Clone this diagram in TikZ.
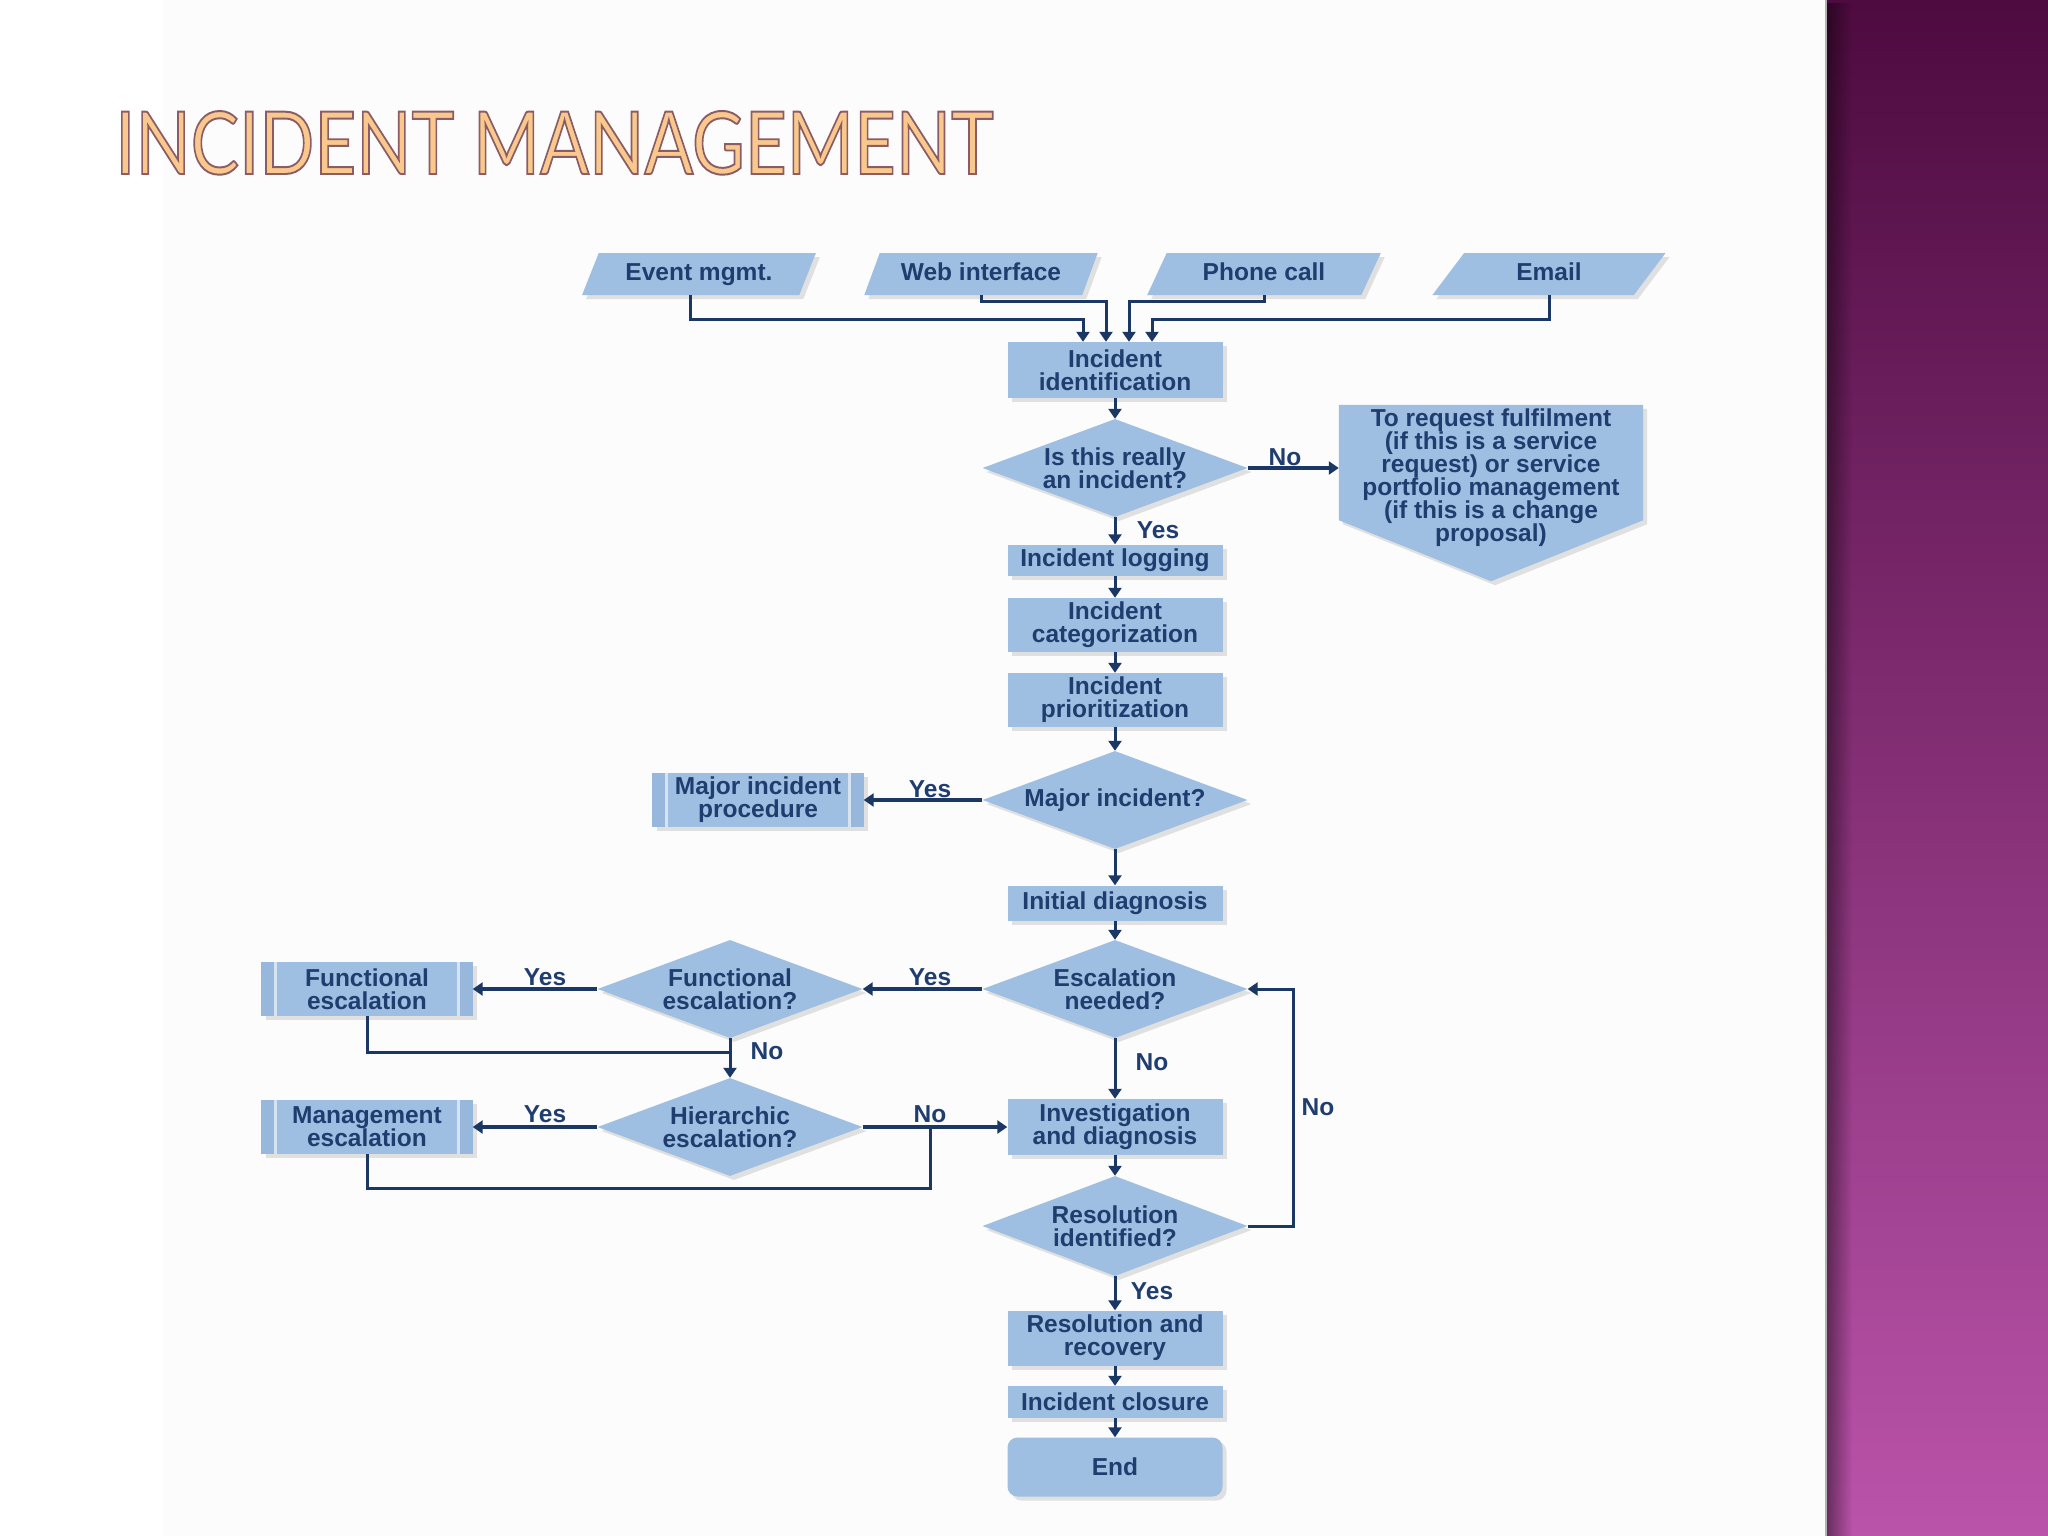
\documentclass[tikz,border=0pt]{standalone}
\usepackage{fontspec}
\setmainfont{Liberation Sans}
\newfontfamily\titlefont{Lato}
\usetikzlibrary{shapes.geometric,arrows.meta,shadows,fadings,calc}
\definecolor{boxblue}{HTML}{9EBFE2}
\definecolor{boxdark}{HTML}{97B8DC}
\definecolor{stripline}{HTML}{D6E4F2}
\definecolor{navy}{HTML}{1F3D6E}
\definecolor{linenavy}{HTML}{1B3763}
\definecolor{purpletop}{HTML}{4E0B40}
\definecolor{purplemid}{HTML}{87367C}
\definecolor{purplebot}{HTML}{BA53AA}
\definecolor{titlefill}{HTML}{F8C88C}
\definecolor{slidebg}{HTML}{FCFCFC}
\begin{document}
\begin{tikzpicture}[x=1pt,y=-1pt,
  every node/.style={font=\bfseries\fontsize{24.5}{23}\selectfont, text=navy},
  shadowed/.style={drop shadow={shadow xshift=4pt,shadow yshift=-4pt,opacity=0.2,fill=black!55}},
  procbox/.style={shadowed, fill=boxblue, draw=none, minimum width=215pt, align=center, inner sep=1pt},
  predbox/.style={procbox, minimum width=211pt, minimum height=54pt},
  decision/.style={diamond, shadowed, fill=boxblue, aspect=2.7, minimum width=265pt, minimum height=98pt, inner sep=0pt, align=center},
  inp/.style={trapezium, trapezium left angle=62, trapezium right angle=118, trapezium stretches=true, minimum width=234pt, minimum height=42pt, fill=boxblue, inner sep=0pt, text height=18pt, text depth=5pt, shadowed},
  lbl/.style={inner sep=0pt},
  conn/.style={draw=linenavy, line width=3pt},
  flow/.style={conn, -{Triangle[width=13pt,length=10pt]}},
  thickflow/.style={flow, line width=4.5pt}]
\useasboundingbox (0,0) rectangle (2048,1536);
% background
\fill[white] (0,0) rectangle (2048,1536);
\fill[slidebg] (163,0) rectangle (1826,1536);
\shade[top color=purpletop, middle color=purplemid, bottom color=purplebot] (1826,0) rectangle (2048,1536);
\fill[black, path fading=east, opacity=0.45] (1826,0) rectangle (1852,1536);
\draw[gray!60, line width=1.5pt] (1826,0) -- (1826,1536);
% title
\node[anchor=base west, inner sep=0pt, text=titlefill] (title) at (115,174)
  {\resizebox{878pt}{63pt}{\mdseries\titlefont\special{pdf:literal direct 2 Tr 0.55 0.36 0.40 RG 0.55 w}INCIDENT MANAGEMENT\special{pdf:literal direct 0 Tr}}};
% inputs
\node[inp] (ev) at (699,274) {Event mgmt.};
\node[inp] (web) at (981,274) {Web interface};
\node[inp] (ph) at (1264,274) {Phone call};
\node[inp] (em) at (1549,274) {Email};
% main column
\node[procbox, minimum height=56pt] (idf) at (1115,370) {Incident\\identification};
\node[decision] (q1) at (1115,468) {Is this really\\an incident?};
\node[minimum width=304pt, minimum height=146pt, inner sep=0pt, align=center] (req) at (1491,478)
  {};
\node[procbox, minimum height=31pt, inner sep=0pt] (log) at (1115,560) {Incident logging};
\node[procbox, minimum height=54pt] (cat) at (1115,625) {Incident\\categorization};
\node[procbox, minimum height=54pt] (pri) at (1115,700) {Incident\\prioritization};
\node[decision] (maj) at (1115,800) {Major incident?};
\node[predbox] (mip) at (758,800) {Major incident\\procedure};
\node[procbox, minimum height=35pt] (init) at (1115,903) {Initial diagnosis};
\node[decision] (esc) at (1115,989) {Escalation\\needed?};
\node[decision] (fun) at (730,989) {Functional\\escalation?};
\node[predbox] (funbox) at (367,989) {Functional\\escalation};
\node[decision] (hier) at (730,1127) {Hierarchic\\escalation?};
\node[predbox] (mgmt) at (367,1127) {Management\\escalation};
\node[procbox, minimum height=56pt] (inv) at (1115,1127) {Investigation\\and diagnosis};
\node[decision, minimum height=100pt] (res) at (1115,1226) {Resolution\\identified?};
\node[procbox, minimum height=55pt] (rr) at (1115,1338) {Resolution and\\recovery};
\node[procbox, minimum height=32pt, inner sep=0pt] (clo) at (1115,1402) {Incident closure};
\node[procbox, minimum height=59pt, rounded corners=10pt] (end) at (1115,1467) {End};
% pentagon (off-page connector)
\fill[boxblue, drop shadow={shadow xshift=4pt,shadow yshift=-4pt,opacity=0.2,fill=black!55}]
  (req.north west) -- (req.north east) -- ($(req.south east)+(0,-31)$) -- ($(req.south)+(0,30)$) -- ($(req.south west)+(0,-31)$) -- cycle;
\node[inner sep=0pt, align=center] (reqtext) at (req.center)
  {To request fulfilment\\(if this is a service\\request) or service\\portfolio management\\(if this is a change\\proposal)};
% predefined-process strips
\foreach \n in {mip,funbox,mgmt}{
  \fill[boxdark] (\n.north west) rectangle ([xshift=13pt]\n.south west);
  \fill[boxdark] (\n.north east) rectangle ([xshift=-13pt]\n.south east);
  \draw[stripline, line width=2.5pt] ([xshift=14pt]\n.north west) -- ([xshift=14pt]\n.south west);
  \draw[stripline, line width=2.5pt] ([xshift=-14pt]\n.north east) -- ([xshift=-14pt]\n.south east);
}
% coordinates for joins
\coordinate (j1) at (730,1052);
\coordinate (j2) at (930,1188);
\coordinate (j3) at (930,1127);
% input connectors
\draw[flow] ([xshift=-9pt]ev.south) -- ++(0,24) -| ([xshift=-32pt]idf.north);
\draw[flow] (web.south) -- ++(0,6) -| ([xshift=-9pt]idf.north);
\draw[flow] (ph.south) -- ++(0,6) -| ([xshift=14pt]idf.north);
\draw[flow] (em.south) -- ++(0,24) -| ([xshift=37pt]idf.north);
% main flow
\draw[flow] (idf) -- (q1);
\draw[thickflow] (q1.east) -- (q1.east -| req.west);
\draw[flow] (q1) -- (log);
\draw[flow] (log) -- (cat);
\draw[flow] (cat) -- (pri);
\draw[flow] (pri) -- (maj);
\draw[thickflow] (maj) -- (mip);
\draw[flow] (maj) -- (init);
\draw[flow] (init) -- (esc);
\draw[thickflow] (esc) -- (fun);
\draw[thickflow] (fun) -- (funbox);
\draw[flow] (fun) -- (hier);
\draw[conn] (funbox.south) |- (j1);
\draw[thickflow] (hier) -- (mgmt);
\draw[thickflow] (hier) -- (inv);
\draw[conn] (mgmt.south) |- (j2) -- (j3);
\draw[flow] (esc) -- (inv);
\draw[flow] (inv) -- (res);
\draw[flow] (res.east) -- ++(46,0) |- (esc.east);
\draw[flow] (res) -- (rr);
\draw[flow] (rr) -- (clo);
\draw[flow] (clo) -- (end);
% labels
\node[lbl] (l1) at (1285,457) {No};
\node[lbl] (l2) at (1158,530) {Yes};
\node[lbl] (l3) at (930,789) {Yes};
\node[lbl] (l4) at (930,977) {Yes};
\node[lbl] (l5) at (545,977) {Yes};
\node[lbl] (l6) at (767,1051) {No};
\node[lbl] (l7) at (545,1114) {Yes};
\node[lbl] (l8) at (930,1114) {No};
\node[lbl] (l9) at (1152,1062) {No};
\node[lbl] (l10) at (1318,1107) {No};
\node[lbl] (l11) at (1152,1291) {Yes};
\end{tikzpicture}
\end{document}
